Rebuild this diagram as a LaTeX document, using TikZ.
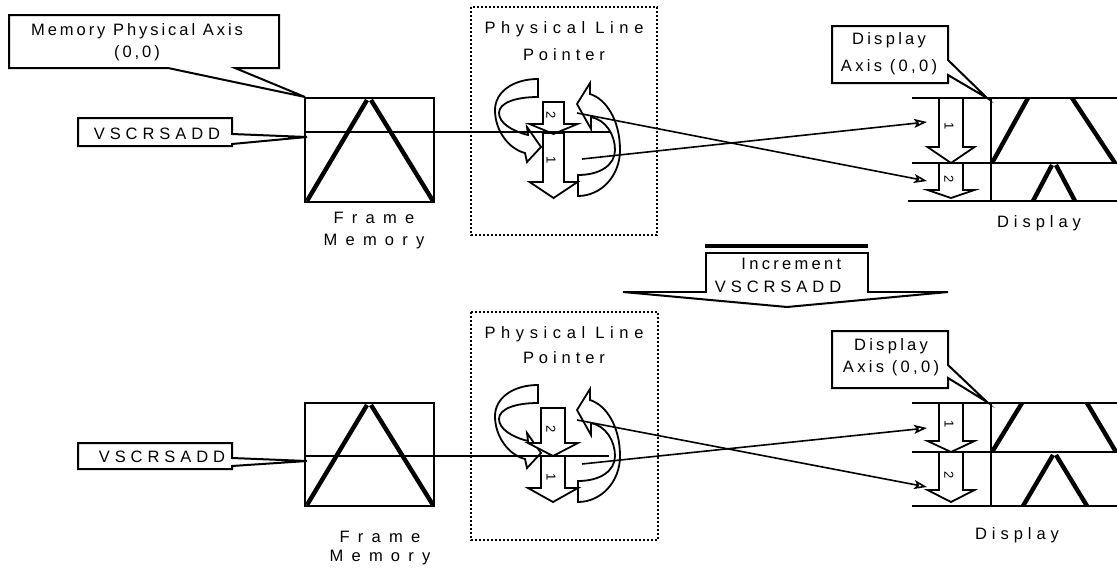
\documentclass[tikz,border=0pt]{standalone}
\usepackage{fontspec}
\setmainfont{Liberation Sans}
\newfontfamily\fM[LetterSpace=18]{Liberation Sans}
\newfontfamily\fA[LetterSpace=20]{Liberation Sans}
\newfontfamily\fB[LetterSpace=30]{Liberation Sans}
\newfontfamily\fP[LetterSpace=34]{Liberation Sans}
\newfontfamily\fC[LetterSpace=50]{Liberation Sans}
\usetikzlibrary{arrows.meta}
\newcommand\fsz[1]{\fontsize{16.5}{#1}\selectfont}
\newcommand\blockarrow[6]{%
  \draw[blk] ({#1-#2},#4) -- ({#1+#2},#4) -- ({#1+#2},#5) -- ({#1+#3},#5) -- (#1,#6) -- ({#1-#3},#5) -- ({#1-#2},#5) -- cycle;}
\newcommand\curvedpair{%
  \draw[curv] (538,79) .. controls (513,79) and (495,92) .. (495,110)
    .. controls (495,131) and (509,149) .. (525,153)
    -- (527,162) -- (541,147) -- (527,127) -- (528,135)
    .. controls (512,131) and (499,123) .. (499,113)
    .. controls (499,103) and (515,97) .. (538,97) -- cycle;
  \draw[curv] (578,196) .. controls (601,196) and (620,176) .. (620,150)
    .. controls (620,120) and (606,99) .. (590,94)
    -- (590,83) -- (577,104) -- (591,129) -- (591,117)
    .. controls (606,120) and (615,135) .. (615,150)
    .. controls (615,165) and (600,175) .. (578,175) -- cycle;}
\tikzset{
  callout/.style={draw, line width=2pt, fill=white, line join=miter},
  lbl/.style={inner sep=0pt, align=center, text=black},
  blk/.style={draw, line width=1.8pt, fill=white, line join=miter},
  curv/.style={draw, line width=1.8pt, fill=white, line join=miter},
  conn/.style={line width=1.6pt, -{Stealth[open,length=13pt,width=9pt,inset=3pt]}},
  hline/.style={line width=1.8pt},
  framebox/.style={draw, line width=2.3pt},
  tri/.style={line width=4.4pt},
  dline/.style={line width=2pt},
  dotbox/.style={draw, line width=2.4pt, dash pattern=on 2.4pt off 1.6pt},
  digit/.style={inner sep=0pt, font=\fontsize{13}{13}\selectfont, rotate=-90},
}
\begin{document}
\begin{tikzpicture}[x=1pt,y=-1pt]
\useasboundingbox (0,0) rectangle (1117,570);
\fill[white] (0,0) rectangle (1117,570);

% ================= TOP =================
\draw[callout] (9,15)--(279,15)--(279,68)--(235,68)--(305,97)--(168,68)--(9,68)--cycle;
\node[lbl, font=\fM\fsz{22}] (mpa) at (137,42) {Memory Physical Axis\\(0,0)};
\draw[callout] (78,118)--(232,118)--(232,134)--(307,137)--(232,144)--(232,146)--(78,146)--cycle;
\node[lbl, font=\fB\fsz{20}] (vsA) at (157,134) {VSCRSADD};

\draw[framebox] (305,98) rectangle (434,202);
\draw[tri] (307,201) -- (367,100);
\draw[tri] (371,100) -- (433,201);
\node[lbl, font=\fC\fsz{22}] (fmA) at (374,231) {Frame\\Memory};

\draw[dotbox] (471,7) rectangle (657,235);
\node[lbl, font=\fP\fsz{27}] (plpA) at (564,41.5) {Physical Line\\{\fB Pointer}};

\curvedpair
\blockarrow{553.5}{10.5}{24}{133}{182}{198}
\blockarrow{553.5}{10.5}{24}{102}{124}{134}
\node[digit] (dA2) at (551,115) {2};
\node[digit] (dA1) at (551,160) {1};

\draw[dline] (912,98) -- (1117,98);
\draw[dline] (912,163) -- (1117,163);
\draw[dline] (908,201) -- (1117,201);
\draw[line width=2.3pt] (991,98) -- (991,201);
\draw[tri] (992,163) -- (1028,98);
\draw[tri] (1072,98) -- (1115,163);
\draw[tri] (1033,201) -- (1052,165);
\draw[tri] (1056,165) -- (1075,201);
\blockarrow{951}{12}{23.5}{98}{147}{163}
\blockarrow{951}{12}{23.5}{163}{190}{198}
\node[digit] (dB1) at (949,126) {1};
\node[digit] (dB2) at (949,179) {2};
\draw[callout] (832,26)--(948,26)--(948,60)--(987,98)--(948,75)--(948,83)--(832,83)--cycle;
\node[lbl, font=\fA\fsz{27}] (daA) at (889,53.5) {Display\\Axis (0,0)};
\node[lbl, font=\fB\fsz{20}] (dispA) at (1039,223) {Display};

\coordinate (hAs) at (305,132);
\coordinate (hAe) at (610,132);
\draw[hline] (hAs) -- (hAe);
\coordinate (sA1) at (582,159);
\coordinate (eA1) at (927,122);
\coordinate (sA2) at (577,113);
\coordinate (eA2) at (927,181);
\draw[conn] (sA1) -- (eA1);
\draw[conn] (sA2) -- (eA2);

% ================= INCREMENT =================
\draw[line width=4.5pt] (705,246) -- (868,246);
\draw[line width=2pt] (705,253) -- (868,253);
\draw[line width=2pt] (623,292) -- (706,292) -- (706,252);
\draw[line width=2pt] (868,252) -- (868,292) -- (948,292);
\draw[line width=2pt] (623,292) -- (787,307) -- (948,292);
\node[lbl, font=\fB\fsz{23}, align=right] (inc) at (778,275.5) {{\fA Increment}\\VSCRSADD};

% ================= BOTTOM =================
\draw[callout] (78,443)--(232,443)--(232,458)--(307,461)--(232,466)--(232,469)--(78,469)--cycle;
\node[lbl, font=\fB\fsz{20}] (vsB) at (162,457) {VSCRSADD};

\draw[framebox] (305,403) rectangle (434,506);
\draw[tri] (307,505) -- (367,405);
\draw[tri] (371,405) -- (433,505);
\node[lbl, font=\fC\fsz{19}] (fmB) at (380,548.5) {Frame\\Memory};

\draw[dotbox] (471,312) rectangle (658,540);
\node[lbl, font=\fP\fsz{25}] (plpB) at (564,345.5) {Physical Line\\{\fB Pointer}};

\begin{scope}[shift={(0,306)}]
\curvedpair
\end{scope}

\blockarrow{553}{12}{25}{456}{488}{502}
\blockarrow{553}{12}{25}{408}{443}{456}
\node[digit] (dC2) at (551,429) {2};
\node[digit] (dC1) at (551,477) {1};

\draw[dline] (912,403) -- (1117,403);
\draw[dline] (912,452) -- (1117,452);
\draw[dline] (912,506) -- (1117,506);
\draw[line width=2.3pt] (991,403) -- (991,506);
\draw[tri] (992,452) -- (1022,403);
\draw[tri] (1087,403) -- (1116,452);
\draw[tri] (1023,506) -- (1053,455);
\draw[tri] (1056,455) -- (1087,506);
\blockarrow{951}{12}{23.5}{403}{441}{452}
\blockarrow{951}{12}{23.5}{452}{490}{502}
\node[digit] (dD1) at (949,424) {1};
\node[digit] (dD2) at (949,475) {2};
\draw[callout] (832,331)--(948,331)--(948,365)--(987,402)--(948,378)--(948,388)--(832,388)--cycle;
\node[lbl, font=\fA\fsz{22}] (daB) at (891,357) {Display\\Axis (0,0)};
\node[lbl, font=\fB\fsz{20}] (dispB) at (1017,535) {Display};

\coordinate (hBs) at (305,456);
\coordinate (hBe) at (609,456);
\draw[hline] (hBs) -- (hBe);
\coordinate (sB1) at (582,464);
\coordinate (eB1) at (927,428);
\coordinate (sB2) at (577,420);
\coordinate (eB2) at (927,487);
\draw[conn] (sB1) -- (eB1);
\draw[conn] (sB2) -- (eB2);
\end{tikzpicture}
\end{document}
